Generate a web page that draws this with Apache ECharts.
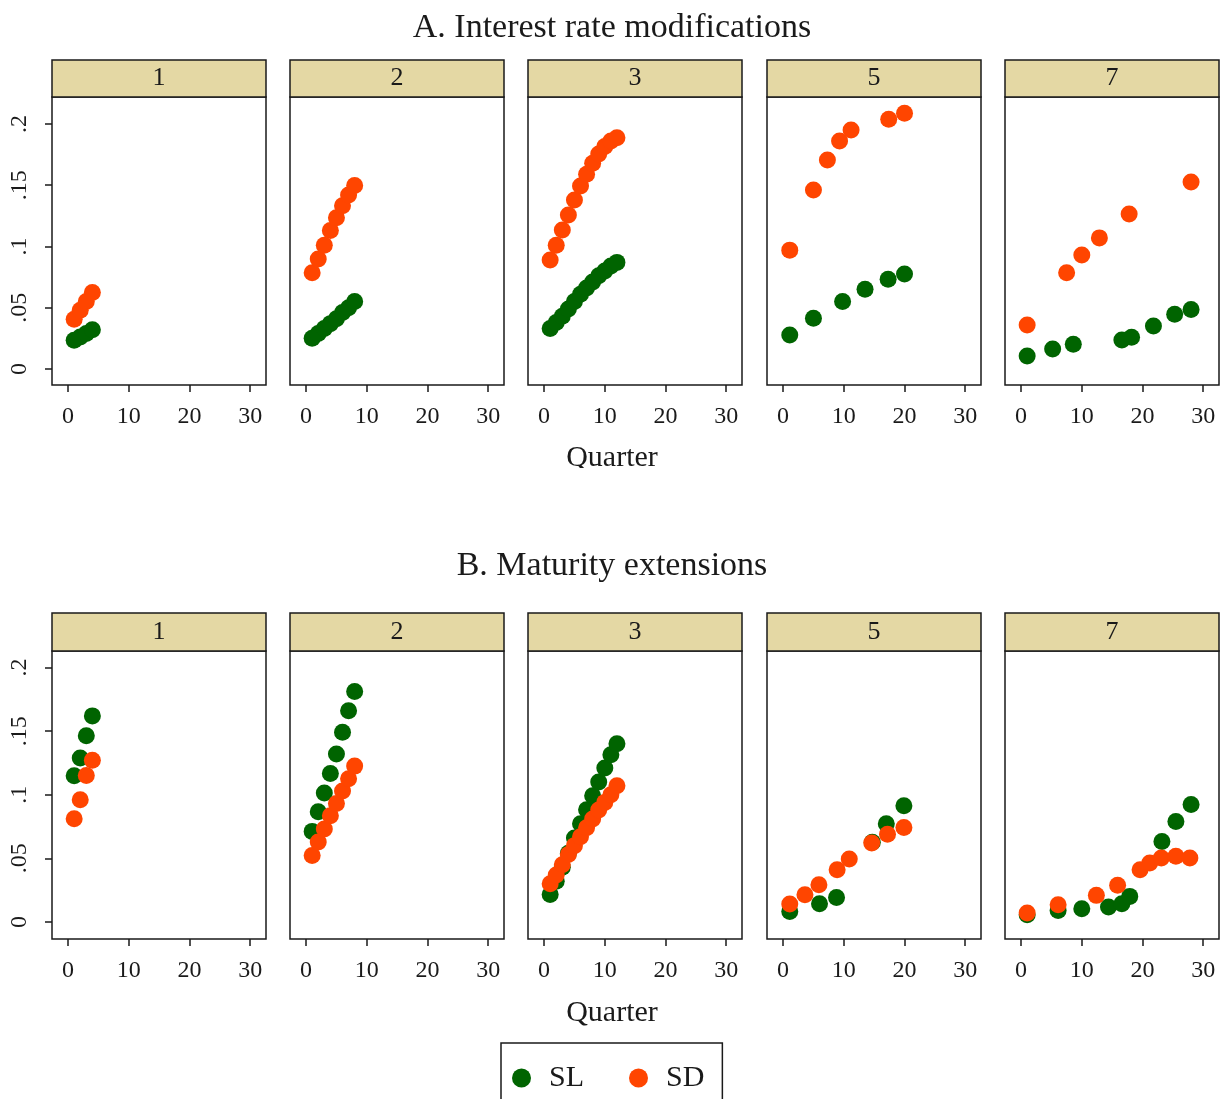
<!DOCTYPE html>
<html>
<head>
<meta charset="utf-8">
<script src="https://cdn.jsdelivr.net/npm/echarts@6/dist/echarts.min.js"></script>
<style>
  html, body { margin: 0; padding: 0; background: #fff; }
  #chart { width: 1225px; height: 1099px; }
</style>
</head>
<body>
<div id="chart"></div>
<script>
  // panel labels and titles
  const panelNames = ['1', '2', '3', '5', '7'];
  const rowTitles = ['A. Interest rate modifications', 'B. Maturity extensions'];
  const xTicks = [0, 10, 20, 30];
  const yTicks = [0, 0.05, 0.1, 0.15, 0.2];

  // A. Interest rate modifications  [quarter, value]
  const rate1SL = [[1, 0.0235], [2, 0.026], [3, 0.029], [4, 0.032]];
  const rate1SD = [[1, 0.0405], [2, 0.048], [3, 0.055], [4, 0.0625]];
  const rate2SL = [[1, 0.025], [2, 0.029], [3, 0.033], [4, 0.037], [5, 0.041], [6, 0.046], [7, 0.050], [8, 0.055]];
  const rate2SD = [[1, 0.0786], [2, 0.0898], [3, 0.101], [4, 0.113], [5, 0.1235], [6, 0.1333], [7, 0.142], [8, 0.1497]];
  const rate3SL = [[1, 0.033], [2, 0.038], [3, 0.043], [4, 0.049], [5, 0.055], [6, 0.061], [7, 0.066], [8, 0.071], [9, 0.076], [10, 0.080], [11, 0.084], [12, 0.087]];
  const rate3SD = [[1, 0.089], [2, 0.101], [3, 0.1135], [4, 0.1257], [5, 0.138], [6, 0.1494], [7, 0.159], [8, 0.168], [9, 0.1755], [10, 0.1815], [11, 0.186], [12, 0.1888]];
  const rate5SL = [[1.1, 0.0278], [5, 0.0414], [9.8, 0.055], [13.5, 0.065], [17.3, 0.0732], [20, 0.0776]];
  const rate5SD = [[1.1, 0.097], [5, 0.146], [7.3, 0.1706], [9.3, 0.186], [11.2, 0.195], [17.4, 0.2038], [20, 0.2087]];
  const rate7SL = [[1, 0.0106], [5.2, 0.0163], [8.6, 0.0201], [16.6, 0.0237], [18.2, 0.0259], [21.8, 0.0351], [25.3, 0.0446], [28, 0.0485]];
  const rate7SD = [[1, 0.0359], [7.5, 0.0786], [10, 0.093], [12.9, 0.107], [17.8, 0.1265], [28, 0.1527]];

  // B. Maturity extensions  [quarter, value]
  const mat1SL = [[1, 0.1149], [2, 0.1288], [3, 0.1463], [4, 0.162]];
  const mat1SD = [[1, 0.0811], [2, 0.0961], [3, 0.1152], [4, 0.1272]];
  const mat2SL = [[1, 0.0712], [2, 0.0866], [3, 0.1013], [4, 0.1167], [5, 0.132], [6, 0.1492], [7, 0.166], [8, 0.1812]];
  const mat2SD = [[1, 0.0523], [2, 0.0628], [3, 0.073], [4, 0.0835], [5, 0.0932], [6, 0.1029], [7, 0.1126], [8, 0.1225]];
  const mat3SL = [[1, 0.0215], [2, 0.032], [3, 0.043], [4, 0.054], [5, 0.066], [6, 0.0772], [7, 0.0882], [8, 0.0992], [9, 0.110], [10, 0.121], [11, 0.1314], [12, 0.140]];
  const mat3SD = [[1, 0.0301], [2, 0.037], [3, 0.045], [4, 0.053], [5, 0.060], [6, 0.067], [7, 0.074], [8, 0.081], [9, 0.088], [10, 0.094], [11, 0.100], [12, 0.107]];
  const mat5SL = [[1.1, 0.0083], [6, 0.0144], [8.8, 0.0193], [14.7, 0.0626], [17, 0.0772], [19.9, 0.0913]];
  const mat5SD = [[1.1, 0.0141], [3.6, 0.0214], [5.9, 0.0293], [8.9, 0.041], [10.9, 0.0495], [14.6, 0.062], [17.2, 0.069], [19.9, 0.0743]];
  const mat7SL = [[1, 0.0057], [6.1, 0.0091], [10, 0.0104], [14.4, 0.0118], [16.6, 0.0144], [17.9, 0.0201], [23.2, 0.0633], [25.5, 0.079], [28, 0.0924]];
  const mat7SD = [[1, 0.0071], [6.1, 0.0136], [12.4, 0.0209], [15.9, 0.0288], [19.6, 0.041], [21.2, 0.0463], [23.1, 0.0503], [25.5, 0.0516], [27.8, 0.0503]];

  const rows = [
    [[rate1SL, rate1SD], [rate2SL, rate2SD], [rate3SL, rate3SD], [rate5SL, rate5SD], [rate7SL, rate7SD]],
    [[mat1SL, mat1SD], [mat2SL, mat2SD], [mat3SL, mat3SD], [mat5SL, mat5SD], [mat7SL, mat7SD]]
  ];

  const slColor = '#006400';
  const sdColor = '#FF4500';
  const stripColor = '#E4D8A4';
  const ink = '#1a1a1a';
  const serif = '"Liberation Serif", "DejaVu Serif", serif';

  const panelLeft = [52, 290, 528, 767, 1005];
  const panelWidth = 214;
  const rowTop = [97, 651];
  const rowHeight = 288;
  const stripTop = [60, 613];
  const yRange = [[-0.0131, 0.222], [-0.0134, 0.213]];

  let grid = [], xAxis = [], yAxis = [], series = [], graphic = [];

  rows.forEach(function (panels, r) {
    panels.forEach(function (pair, c) {
      let idx = grid.length;
      grid.push({
        left: panelLeft[c], top: rowTop[r], width: panelWidth, height: rowHeight,
        show: true, borderColor: ink, borderWidth: 1.5, backgroundColor: '#fff'
      });
      xAxis.push({
        type: 'value', gridIndex: idx, min: -2.65, max: 32.6, position: 'bottom',
        splitLine: { show: false },
        axisLine: { show: false, onZero: false },
        axisTick: { show: true, length: 7, customValues: xTicks, lineStyle: { color: ink, width: 1.5 } },
        axisLabel: {
          customValues: xTicks, margin: 20,
          fontFamily: serif, fontSize: 24, color: ink
        }
      });
      yAxis.push({
        type: 'value', gridIndex: idx, min: yRange[r][0], max: yRange[r][1], position: 'left',
        splitLine: { show: false },
        axisLine: { show: false, onZero: false },
        axisTick: { show: c === 0, length: 7, customValues: yTicks, lineStyle: { color: ink, width: 1.5 } },
        axisLabel: {
          show: c === 0, customValues: yTicks, rotate: 90, margin: 20,
          fontFamily: serif, fontSize: 24, color: ink,
          formatter: function (v) { return v === 0 ? '0' : String(v).replace(/^0/, ''); }
        }
      });
      series.push({
        name: 'SL', type: 'scatter', xAxisIndex: idx, yAxisIndex: idx,
        symbolSize: 17, itemStyle: { color: slColor, opacity: 1 }, data: pair[0], z: 2
      });
      series.push({
        name: 'SD', type: 'scatter', xAxisIndex: idx, yAxisIndex: idx,
        symbolSize: 17, itemStyle: { color: sdColor, opacity: 1 }, data: pair[1], z: 3
      });
      // strip header
      graphic.push({
        type: 'rect',
        shape: { x: panelLeft[c], y: stripTop[r], width: panelWidth, height: rowTop[r] - stripTop[r] },
        style: { fill: stripColor, stroke: ink, lineWidth: 1.5 }
      });
      graphic.push({
        type: 'text', x: panelLeft[c] + panelWidth / 2, y: (stripTop[r] + rowTop[r]) / 2,
        style: { text: panelNames[c], font: '26px ' + serif, fill: ink, align: 'center', verticalAlign: 'middle' }
      });
    });
  });

  // row titles and axis titles
  graphic.push({ type: 'text', x: 612, y: 28, style: { text: rowTitles[0], font: '34px ' + serif, fill: ink, align: 'center', verticalAlign: 'middle' } });
  graphic.push({ type: 'text', x: 612, y: 566, style: { text: rowTitles[1], font: '34px ' + serif, fill: ink, align: 'center', verticalAlign: 'middle' } });
  graphic.push({ type: 'text', x: 612, y: 458, style: { text: 'Quarter', font: '30px ' + serif, fill: ink, align: 'center', verticalAlign: 'middle' } });
  graphic.push({ type: 'rect', shape: { x: 540, y: 468, width: 150, height: 20 }, style: { fill: '#fff' }, z: 10 });
  graphic.push({ type: 'text', x: 612, y: 1013, style: { text: 'Quarter', font: '30px ' + serif, fill: ink, align: 'center', verticalAlign: 'middle' } });

  const chart = echarts.init(document.getElementById('chart'), null, { renderer: 'canvas' });
  chart.setOption({
    backgroundColor: '#fff',
    animation: false,
    grid: grid,
    xAxis: xAxis,
    yAxis: yAxis,
    series: series,
    graphic: graphic,
    legend: {
      data: ['SL', 'SD'],
      left: 501, top: 1043,
      orient: 'horizontal',
      icon: 'circle', itemWidth: 19, itemHeight: 19, itemGap: 45,
      padding: [20, 18, 24, 11],
      borderColor: ink, borderWidth: 1.5,
      textStyle: { fontFamily: serif, fontSize: 30, color: ink, padding: [0, 0, 0, 13] }
    }
  });
</script>
</body>
</html>
